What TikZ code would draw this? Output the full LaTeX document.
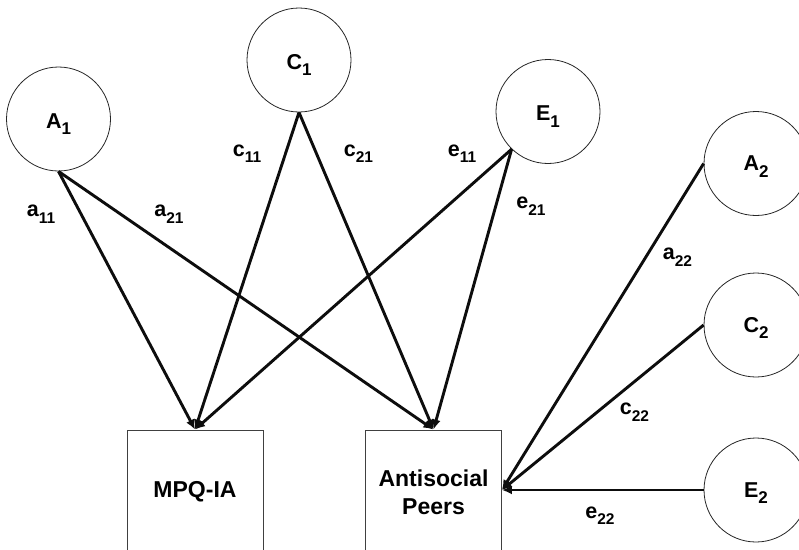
\documentclass[tikz,border=0pt]{standalone}
\usepackage{fontspec}
\setmainfont{Liberation Sans}
\usetikzlibrary{arrows.meta}
\newcommand\plab[2]{#1\raisebox{-0.3em}{\fontsize{15.5}{15.5}\selectfont #2}}
\newcommand\clab[2]{#1\raisebox{-0.3em}{\fontsize{17}{17}\selectfont #2}}
\begin{document}
\begin{tikzpicture}[x=1pt,y=-1pt,
  latent/.style={circle,draw=black!85,line width=0.8pt,minimum size=104pt,inner sep=0pt},
  obs/.style={rectangle,draw=black!75,line width=0.9pt,minimum width=136pt,minimum height=124pt,align=center,font=\fontsize{23}{28}\selectfont\bfseries},
  conn/.style={line width=2.9pt,draw=black!95,-{Latex[length=10pt,width=9pt]}},
  lab/.style={font=\fontsize{21.5}{21.5}\selectfont\bfseries,inner sep=0pt}]
\useasboundingbox (0,0) rectangle (799,549);
\clip (0,0) rectangle (799,549);
% latent factors
\node[latent] (A1) at (58.5,119) {};
\node[latent] (C1) at (299,60) {};
\node[latent] (E1) at (548,111.5) {};
\node[latent] (A2) at (756,163.5) {};
\node[latent] (C2) at (756,325) {};
\node[latent] (E2) at (756,490) {};
\node[lab] (tA1) at ([yshift=-5pt]A1.center) {\clab{A}{1}};
\node[lab] (tC1) at ([yshift=-5pt]C1.center) {\clab{C}{1}};
\node[lab] (tE1) at ([yshift=-5pt]E1.center) {\clab{E}{1}};
\node[lab] (tA2) at ([yshift=-3pt]A2.center) {\clab{A}{2}};
\node[lab] (tC2) at ([yshift=-3pt]C2.center) {\clab{C}{2}};
\node[lab] (tE2) at ([yshift=-3pt]E2.center) {\clab{E}{2}};
% observed
\node[obs] (MPQ) at (195,492) {MPQ-IA};
\node[obs] (ASP) at (433.5,492) {Antisocial\\Peers};
% paths
\draw[conn] (A1.south) -- (MPQ.north);
\draw[conn] (A1.south) -- (ASP.north);
\draw[conn] (C1.south) -- (MPQ.north);
\draw[conn] (C1.south) -- (ASP.north);
\draw[conn] (E1.226) -- (MPQ.north);
\draw[conn] (E1.226) -- (ASP.north);
\draw[conn] (A2.west) -- (ASP.east |- E2.west);
\draw[conn] (C2.west) -- (ASP.east |- E2.west);
\draw[conn] (E2.west) -- (ASP.east |- E2.west);
% path labels
\node[lab] (la11) at (41,214) {\plab{a}{11}};
\node[lab] (la21) at (169,214) {\plab{a}{21}};
\node[lab] (lc11) at (247,153.5) {\plab{c}{11}};
\node[lab] (lc21) at (358.5,153.5) {\plab{c}{21}};
\node[lab] (le11) at (462,153.5) {\plab{e}{11}};
\node[lab] (le21) at (531,206) {\plab{e}{21}};
\node[lab] (la22) at (677.5,257) {\plab{a}{22}};
\node[lab] (lc22) at (634.5,412) {\plab{c}{22}};
\node[lab] (le22) at (600,515.5) {\plab{e}{22}};
\end{tikzpicture}
\end{document}
